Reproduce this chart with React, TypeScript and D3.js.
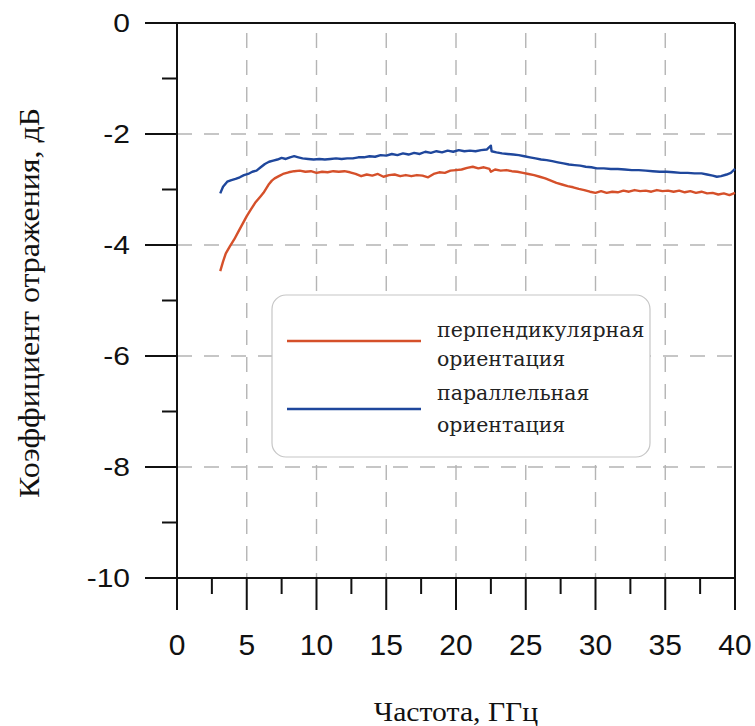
import React, { useEffect, useRef } from 'react';
import * as d3 from 'd3';

// Frequency (GHz) and reflection coefficient (dB)
const perpFreq = [3.1, 3.3, 3.5, 3.8, 4.1, 4.4, 4.7, 5.0, 5.3, 5.6, 5.8, 6.0, 6.2, 6.4, 6.6, 6.8, 7.0, 7.3, 7.6, 8.0, 8.4, 8.8, 9.2, 9.6, 10.0, 10.4, 10.8, 11.2, 11.6, 12.0, 12.4, 12.8, 13.2, 13.6, 14.0, 14.4, 14.8, 15.2, 15.6, 16.0, 16.4, 16.8, 17.2, 17.6, 18.0, 18.4, 18.8, 19.2, 19.6, 20.0, 20.4, 20.8, 21.2, 21.6, 22.0, 22.4, 22.5, 22.8, 23.2, 23.6, 24.0, 24.4, 24.8, 25.2, 25.6, 26.0, 26.4, 26.8, 27.2, 27.6, 28.0, 28.4, 28.8, 29.2, 29.6, 30.0, 30.4, 30.8, 31.2, 31.6, 32.0, 32.4, 32.8, 33.2, 33.6, 34.0, 34.4, 34.8, 35.2, 35.6, 36.0, 36.4, 36.8, 37.2, 37.6, 38.0, 38.4, 38.8, 39.2, 39.6, 40.0];
const perpDb = [-4.47, -4.3, -4.15, -4.02, -3.9, -3.76, -3.62, -3.48, -3.36, -3.24, -3.18, -3.12, -3.06, -2.98, -2.9, -2.84, -2.8, -2.76, -2.72, -2.69, -2.67, -2.66, -2.68, -2.67, -2.7, -2.68, -2.69, -2.67, -2.68, -2.67, -2.69, -2.72, -2.76, -2.73, -2.75, -2.72, -2.77, -2.74, -2.73, -2.76, -2.74, -2.76, -2.74, -2.75, -2.78, -2.72, -2.69, -2.7, -2.66, -2.65, -2.64, -2.61, -2.59, -2.62, -2.6, -2.63, -2.68, -2.64, -2.66, -2.65, -2.67, -2.68, -2.7, -2.72, -2.74, -2.77, -2.8, -2.84, -2.88, -2.91, -2.94, -2.96, -2.99, -3.01, -3.04, -3.06, -3.03, -3.06, -3.04, -3.05, -3.02, -3.04, -3.01, -3.03, -3.02, -3.04, -3.01, -3.03, -3.02, -3.04, -3.02, -3.05, -3.03, -3.06, -3.04, -3.07, -3.06, -3.09, -3.07, -3.1, -3.06];

const parFreq = [3.1, 3.3, 3.6, 3.9, 4.2, 4.5, 4.8, 5.1, 5.4, 5.7, 6.0, 6.3, 6.6, 6.9, 7.2, 7.5, 7.8, 8.1, 8.4, 8.7, 9.0, 9.4, 9.8, 10.2, 10.6, 11.0, 11.4, 11.8, 12.2, 12.6, 13.0, 13.4, 13.8, 14.2, 14.6, 15.0, 15.4, 15.8, 16.2, 16.6, 17.0, 17.4, 17.8, 18.2, 18.6, 19.0, 19.4, 19.8, 20.2, 20.6, 21.0, 21.4, 21.8, 22.2, 22.5, 22.55, 22.9, 23.3, 23.7, 24.1, 24.5, 24.9, 25.3, 25.7, 26.1, 26.5, 26.9, 27.3, 27.7, 28.1, 28.5, 28.9, 29.3, 29.7, 30.1, 30.6, 31.1, 31.6, 32.1, 32.6, 33.1, 33.6, 34.1, 34.6, 35.1, 35.6, 36.1, 36.6, 37.1, 37.6, 38.0, 38.4, 38.7, 39.0, 39.4, 39.7, 40.0];
const parDb = [-3.07, -2.95, -2.86, -2.83, -2.81, -2.78, -2.74, -2.72, -2.68, -2.66, -2.6, -2.54, -2.5, -2.48, -2.46, -2.43, -2.45, -2.42, -2.4, -2.42, -2.44, -2.45, -2.46, -2.45, -2.46, -2.45, -2.44, -2.45, -2.44, -2.44, -2.42, -2.42, -2.4, -2.41, -2.38, -2.39, -2.36, -2.38, -2.35, -2.37, -2.34, -2.36, -2.32, -2.34, -2.31, -2.33, -2.3, -2.32, -2.29, -2.31, -2.3, -2.31, -2.29, -2.28, -2.21, -2.31, -2.33, -2.35, -2.36, -2.37, -2.38, -2.4, -2.42, -2.44, -2.46, -2.47, -2.49, -2.51, -2.53, -2.55, -2.56, -2.57, -2.59, -2.6, -2.62, -2.62, -2.63, -2.63, -2.64, -2.65, -2.65, -2.66, -2.67, -2.68, -2.68, -2.69, -2.7, -2.7, -2.71, -2.71, -2.73, -2.75, -2.77, -2.76, -2.73, -2.7, -2.63];

const xTicks = [0, 5, 10, 15, 20, 25, 30, 35, 40];
const yTicks = [0, -2, -4, -6, -8, -10];
const xTitle = 'Частота, ГГц';
const yTitle = 'Коэффициент отражения, дБ';
const legendLabels = [
  ['перпендикулярная', 'ориентация'],
  ['параллельная', 'ориентация'],
];
const colors = ['#d5502a', '#1f479c'];

const width = 755;
const height = 726;
const margin = { top: 23, right: 20, bottom: 148, left: 177 };

export default function App() {
  const ref = useRef<SVGSVGElement>(null);

  useEffect(() => {
    const svg = d3.select(ref.current);
    svg.selectAll('*').remove();

    const x = d3.scaleLinear().domain([0, 40]).range([margin.left, width - margin.right]);
    const y = d3.scaleLinear().domain([0, -10]).range([margin.top, height - margin.bottom]);
    const x0 = x(0), x1 = x(40), y0 = y(0), y1 = y(-10);

    // Grid
    const grid = svg.append('g').attr('stroke', '#b4b4b4').attr('stroke-width', 1.4).attr('stroke-dasharray', '15,12');
    grid.selectAll('.vg').data([5, 10, 15, 20, 25, 30, 35]).join('line')
      .attr('x1', d => x(d)).attr('x2', d => x(d))
      .attr('y1', y0 + 10).attr('y2', y1);
    grid.selectAll('.hg').data([-2, -4, -6, -8]).join('line')
      .attr('x1', x0).attr('x2', x1)
      .attr('y1', d => y(d)).attr('y2', d => y(d));

    // Frame and ticks
    const axes = svg.append('g').attr('stroke', '#111').attr('stroke-width', 2);
    axes.append('line').attr('x1', x0 - 32).attr('x2', x1).attr('y1', y0).attr('y2', y0);
    axes.append('line').attr('x1', x0 - 32).attr('x2', x1).attr('y1', y1).attr('y2', y1);
    axes.append('line').attr('x1', x0).attr('x2', x0).attr('y1', y0).attr('y2', y1 + 32);
    axes.append('line').attr('x1', x1).attr('x2', x1).attr('y1', y0).attr('y2', y1 + 32);
    axes.selectAll('.ymaj').data(yTicks.slice(1, -1)).join('line')
      .attr('x1', x0 - 32).attr('x2', x0).attr('y1', d => y(d)).attr('y2', d => y(d));
    axes.selectAll('.ymin').data(d3.range(-1, -10, -2)).join('line')
      .attr('x1', x0 - 15).attr('x2', x0).attr('y1', d => y(d)).attr('y2', d => y(d));
    axes.selectAll('.xmaj').data(xTicks.slice(1, -1)).join('line')
      .attr('x1', d => x(d)).attr('x2', d => x(d)).attr('y1', y1).attr('y2', y1 + 32);
    axes.selectAll('.xmin').data(d3.range(2.5, 40, 5)).join('line')
      .attr('x1', d => x(d)).attr('x2', d => x(d)).attr('y1', y1).attr('y2', y1 + 16);

    // Tick labels
    svg.selectAll('.ylab').data(yTicks).join('text')
      .attr('transform', d => `translate(130,${y(d)}) scale(1.2,1)`)
      .attr('text-anchor', 'end').attr('dy', '0.36em')
      .attr('font-family', "'Liberation Sans', Arial, sans-serif").attr('font-size', 25)
      .attr('fill', '#111').text(d => String(d));
    svg.selectAll('.xlab').data(xTicks).join('text')
      .attr('x', d => x(d)).attr('y', 644)
      .attr('text-anchor', 'middle').attr('dy', '0.36em')
      .attr('font-family', "'Liberation Sans', Arial, sans-serif").attr('font-size', 30)
      .attr('fill', '#111').text(d => String(d));

    // Titles
    svg.append('text').attr('transform', 'translate(456,721) scale(1.1,1)').attr('text-anchor', 'middle')
      .attr('font-family', "'Liberation Serif', 'Times New Roman', serif").attr('font-size', 27)
      .attr('fill', '#111').text(xTitle);
    svg.append('text').attr('transform', 'translate(39,303) rotate(-90) scale(1.1,1)').attr('text-anchor', 'middle')
      .attr('font-family', "'Liberation Serif', 'Times New Roman', serif").attr('font-size', 29)
      .attr('fill', '#111').text(yTitle);

    // Curves
    const line = d3.line<[number, number]>().x(d => x(d[0])).y(d => y(d[1]));
    const series: [number, number][][] = [
      perpFreq.map((f, i) => [f, perpDb[i]]),
      parFreq.map((f, i) => [f, parDb[i]]),
    ];
    svg.selectAll('.curve').data(series).join('path')
      .attr('d', d => line(d))
      .attr('fill', 'none')
      .attr('stroke', (d, i) => colors[i])
      .attr('stroke-width', 2.4)
      .attr('stroke-linejoin', 'round');

    // Legend
    const lg = svg.append('g');
    lg.append('rect').attr('x', 272).attr('y', 295).attr('width', 378).attr('height', 162)
      .attr('rx', 14).attr('fill', '#fff').attr('stroke', '#c6c6c6').attr('stroke-width', 1.2);
    const lineY = [341, 409];
    const textY = [[337, 366], [400, 432]];
    legendLabels.forEach((lines, i) => {
      lg.append('line').attr('x1', 287).attr('x2', 421)
        .attr('y1', lineY[i]).attr('y2', lineY[i])
        .attr('stroke', colors[i]).attr('stroke-width', 2.4);
      lines.forEach((t, j) => {
        lg.append('text').attr('x', 437).attr('y', textY[i][j])
          .attr('font-family', "'DejaVu Serif', serif").attr('font-size', 20.5)
          .attr('fill', '#222').text(t);
      });
    });
  }, []);

  return (
    <svg ref={ref} width={width} height={height}
      style={{ position: 'absolute', left: 0, top: 0, background: '#fff' }} />
  );
}
